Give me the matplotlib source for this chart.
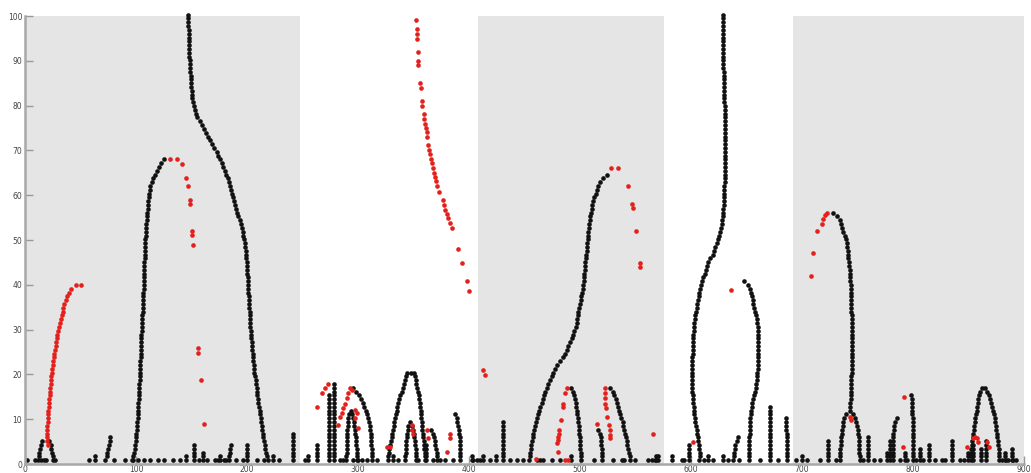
import numpy as np
import matplotlib.pyplot as plt

# one vertical step between neighbouring dots, in y units
DY = 0.85

# grey background bands (x ranges)
bands = [(0, 248), (408, 576), (692, 900)]

# black curves: (first step, x at each following step)
arch1_left = (1, [97, 97.5, 98, 99, 99.3, 99.6, 100, 100.3, 100.6, 101, 101.2, 101.5,
                  101.7, 101.9, 102, 102.2, 102.4, 102.6, 102.8, 103, 103.1, 103.3, 103.5, 103.6,
                  103.8, 103.9, 104, 104.1, 104.3, 104.4, 104.5, 104.6, 104.7, 104.9, 105,
                  105.2, 105.4, 105.5, 105.7, 105.9, 106, 106.2, 106.4, 106.5, 106.7, 106.9, 107,
                  107.1, 107.2, 107.3, 107.4, 107.5, 107.6, 107.7, 107.8, 108, 108.1, 108.3, 108.5,
                  108.7, 108.9, 109.1, 109.3, 109.5, 109.8, 110.1, 110.4, 110.7, 111,
                  111.5, 112, 112.5, 113, 114, 115.5, 117, 118.6, 120.5, 122.5, 125])
arch1_right = (1, [219, 218, 217.3, 216.6, 216, 215.4, 214.8, 214.2, 213.7, 213.2, 212.7, 212.3,
                   211.8, 211.3, 210.8, 210.3, 209.8, 209.4, 209, 208.6, 208.2, 207.7, 207.2, 206.6,
                   206.3, 206, 205.7, 205.4, 205.1, 204.8, 204.5, 204.2, 203.9, 203.6, 203.3,
                   203.1, 202.9, 202.7, 202.5, 202.3, 202.1, 201.9, 201.7, 201.5, 201.3, 201.1, 200.9,
                   200.7, 200.5, 200.4, 200.3, 200, 199.7, 199.4, 199.1, 198.7, 198.3, 197.8, 197.3,
                   196.7, 196, 195.2, 194.3, 193.3, 192.2, 191.2, 190.3, 189.4, 188.5, 187.6, 186.7,
                   185.8, 184.8, 183.8, 182.5, 181.2, 180, 178.7, 177.2, 175.7, 174.2, 172.7,
                   170.7, 168.7, 166.7, 165, 163.5, 161.5, 159.5, 157.3, 155.2,
                   153.8, 152.8, 152, 151.3, 150.7, 150.3, 150, 149.8, 149.5,
                   149.3, 149.1, 148.9, 148.7, 148.5, 148.3, 148.1, 147.9, 147.7,
                   147.6, 147.5, 147.4, 147.3, 147.3, 147.2, 147.2, 147.1, 147.1])
cluster_left = (1, [11.5, 12.5, 13, 13.5, 14.3, 15])
cluster_right = (1, [25.5, 25, 24.3, 23.7, 23, 22])
slant_75 = (1, [72.5, 73.5, 74, 75, 75.5, 76.5, 77])
slant_184 = (1, [183.5, 184, 184.5, 185, 185.5])
outer_right = (1, [312.7, 312.6, 312.5, 312.3, 312.1, 311.9, 311.6, 311.3, 310.9, 310.4,
                   309.8, 309, 308, 307, 305.8, 304.3, 302.5, 300.5, 298, 295.5])
inner_left = (1, [289.5, 289.6, 289.7, 289.8, 289.9, 290, 290.1, 290.2, 290.4, 290.6, 290.8, 291.2, 292])
inner_top = (14, [293.3])
inner_right = (1, [299.4, 299.2, 299, 298.8, 298.6, 298.3, 298, 297.6, 297.2, 296.8, 296.3, 295.5, 294.5])
archc_left = (1, [327, 327.3, 327.8, 328.3, 328.8, 329.5, 330.3, 330.9, 331.5, 332.1, 332.7, 333.4,
                  334.1, 334.8, 335.5, 336.3, 337, 337.8, 339.3, 340.8, 341.6, 342.4, 343.2, 344.2])
archc_top = (24, [347.3])
archc_right = (1, [360.6, 360.4, 360.1, 359.8, 359.5, 359.2, 358.8, 358.4, 358, 357.7, 357.4, 357.1,
                   356.8, 356.5, 356.1, 355.7, 355.3, 355, 354.2, 353.4, 352.7, 352, 351.4, 350.5])
archd_left = (1, [342.5, 342.6, 342.8, 343, 343.2, 343.5, 343.8, 344.2, 344.7, 345.3])
archd_top = (11, [346.7])
archd_right = (1, [352.5, 352.4, 352.2, 352, 351.7, 351.3, 350.9, 350.4, 349.8, 349])
arche_right = (1, [371.5, 371.3, 371, 370.5, 369.8, 369, 368.2, 367.3, 366.2])
hook_390 = (1, [392, 392, 392, 392, 391.9, 391.7, 391.5, 391.3, 390.8, 390.3, 389.6, 388.9, 387.4])
archg_left = (1, [454.5, 454.8, 455.2, 455.7, 456.1, 456.5, 457.3, 458, 458.8, 459.5,
                  460.5, 461.5, 462.4, 463.4, 464.4, 465.5, 466.5, 467.5, 468.5, 470, 471.5,
                  473, 474.5, 476, 477.5, 479.7, 482, 484.3, 486.5, 488, 489.5, 491, 492.5, 494,
                  495, 496, 497, 497.5, 498, 498.5, 499.3, 500, 500.5, 501, 501.5, 502.3, 503,
                  503.3, 503.6, 503.9, 504.2, 504.5, 504.9, 505.3, 505.7, 506,
                  506.3, 506.6, 506.9, 507.2, 507.5, 507.9, 508.3, 508.6, 509,
                  509.7, 510.4, 511.2, 512, 513, 514, 515, 516.5, 518, 521, 524])
archa_right = (1, [500.8, 500.7, 500.6, 500.3, 500, 499.8, 499.6, 499.4, 499.1, 498.8,
                   498.5, 498, 497.6, 497.2, 496.8, 496.4, 495.6, 494.8, 494, 491.5])
hook_519 = (1, [520, 520, 519.8, 519.5, 519.2, 518.9, 518.6, 518, 516.5])
archb_right = (1, [545, 544.7, 544.4, 543.5, 542.6, 541.9, 541.2, 540.5, 539.8, 539.1,
                   538.4, 537.2, 536, 535, 534, 533, 532, 531, 530, 527])
spike = (1, [607.5, 607.7, 607.8, 607.3, 606.8, 606.3, 605.9, 605.4, 605, 604.5,
             604, 603.6, 602.9, 602.6, 602.3, 602, 601.7, 601.5, 601.3, 601.2, 601.1,
             601, 601, 601, 601, 601, 601.1, 601.2, 601.4, 601.5, 601.7, 601.8, 602, 602.1,
             602.4, 602.7, 603, 603.4, 603.9, 604.5, 605.1, 605.7, 606.3, 606.9, 607.5,
             608.4, 609.3, 610.2, 611.1, 612.2, 613.3, 614.4, 615.6, 617.5, 619.5,
             620.8, 622, 623.3, 624.6, 625.6, 626.4, 627, 627.5,
             628, 628.5, 628.8, 629.1, 629.4, 629.7,
             629.8, 629.9, 630, 630.1, 630.2, 630.3, 630.3, 630.4, 630.4, 630.5, 630.5, 630.6,
             630.6, 630.6, 630.6, 630.6, 630.5, 630.5, 630.5, 630.4, 630.4, 630.3, 630.3, 630.2, 630.2, 630.1,
             630, 629.9, 629.8, 629.7, 629.6, 629.5, 629.4, 629.3, 629.2, 629.1, 629, 628.9,
             628.9, 628.8, 628.8, 628.7, 628.7, 628.6, 628.6, 628.6, 628.5, 628.5, 628.5])
bulge_655 = (1, [652.5, 652.5, 652.5, 652.5, 652.5, 652.6, 652.7, 652.8, 652.9, 653, 653.2,
                 653.5, 653.9, 654.3, 654.7, 655.4, 656.1, 656.9, 657.7,
                 658.2, 658.7, 659.1, 659.5, 659.8, 660, 660.2, 660.4, 660.6,
                 660.6, 660.7, 660.7, 660.7, 660.6, 660.5, 660.3, 660.1, 659.8,
                 659.2, 658.5, 657.7, 657, 656.3, 655.5, 654.7, 653.8, 652.8, 651.6, 648])
hook_640 = (1, [638.1, 638.4, 638.7, 639.2, 639.6, 641.2, 642.6])
slant_686 = (1, [686.8, 686.8, 686.7, 686.6, 686.5, 686.4, 686.3, 686.2, 686, 685.8, 685.6, 685.3])
tall_right = (14, [743, 743.2, 743.5, 743.7, 743.9, 744.1,
                   744.2, 744.3, 744.4, 744.5, 744.6, 744.6, 744.7, 744.7, 744.7,
                   744.7, 744.7, 744.7, 744.7, 744.7, 744.7, 744.7, 744.7, 744.7,
                   744.6, 744.6, 744.5, 744.4, 744.3, 744.2, 744.1, 744, 743.8,
                   743.7, 743.6, 743.4, 743.2, 742.9, 742.6, 742.2, 741.7,
                   741.4, 741.1, 740.7, 740.3, 739.3, 738.3, 737.2, 736.2, 735.2, 734.2, 731.5, 728.2])
archm_left = (1, [734.2, 734.3, 734.4, 734.6, 734.8, 735, 735.3, 735.6, 736, 736.6, 737.2, 738, 739.5])
archm_right = (1, [752.2, 752, 751.8, 751.6, 751.4, 751.2, 751, 750.6, 750.2, 749.8, 749, 748, 746.3])
hook_783 = (1, [781.7, 781.7, 781.7, 781.7, 781.8, 781.9, 782, 782.3, 782.7, 783.3, 784, 785.3])
col_800 = (1, [800.3, 800.3, 800.2, 800.2, 800.1, 800.1, 800, 800, 799.9, 799.8, 799.7, 799.6,
               799.5, 799.4, 799.3, 799.1, 798.9, 798.6])
archp_left = (1, [852, 852.2, 852.4, 852.7, 852.9, 853.4, 853.9, 854.3, 854.7, 855.1, 855.5, 855.9,
                  856.7, 857.4, 857.9, 858.4, 858.8, 859.6, 860.4, 861.9])
archp_right = (1, [877.8, 877.6, 877.4, 877.1, 876.9, 876.4, 875.9, 875.4, 875, 874.6, 874.3, 873.9,
                   872.9, 871.8, 871, 870.2, 869.4, 868.2, 866.9, 864.9])

black_curves = [arch1_left, arch1_right, cluster_left, cluster_right, slant_75, slant_184,
                outer_right, inner_left, inner_top, inner_right, archc_left, archc_top, archc_right,
                archd_left, archd_top, archd_right, arche_right, hook_390, archg_left, archa_right,
                hook_519, archb_right, spike, bulge_655, hook_640, slant_686, tall_right,
                archm_left, archm_right, hook_783, col_800, archp_left, archp_right]

# short vertical stacks: (x, number of steps)
stacks = [(63, 2), (145, 2), (152, 5), (160, 3), (176, 2), (200, 5), (223, 2), (241, 8),
          (254.6, 2), (262.8, 5), (273.5, 18), (278.5, 21), (331.8, 2), (361, 5),
          (402.4, 2), (412.9, 2), (424.3, 2), (430.9, 11), (491.5, 2), (570.6, 2),
          (568.5, 2), (582.6, 2), (598.5, 5), (615.6, 2), (629.1, 2), (671, 15), (699.7, 2),
          (723.7, 6), (759.7, 7), (776.3, 3), (779.5, 6), (792.5, 3), (806.5, 4), (814, 5),
          (834.9, 6), (849.9, 3), (854.5, 5), (861.5, 4), (866, 6), (882.9, 3), (888.9, 4)]

# single dots on the bottom row
bottom_x = [1.5, 9, 14, 17, 19, 27, 58, 80, 90, 96, 102, 107, 113, 120, 125, 133, 140, 157, 164,
            171, 174, 179, 181, 190, 196, 209, 215, 229, 252.3, 283.8, 286.8, 295.8, 300.3, 303.3,
            307.8, 316.8, 336.3, 354.3, 367.9, 373.9, 378.4, 385.9, 403.9, 409.9, 407, 418.9,
            436.9, 442.9, 448.9, 461, 464, 467, 474.5, 482, 512.6, 530, 537.5, 539.6, 549.6,
            561.6, 564.6, 567.6, 591.6, 594, 612, 620, 633, 643.5, 662, 678.7, 695, 704.2, 716.2,
            730.6, 755, 765, 770, 788, 795, 803, 809.3, 820, 826, 829, 842.3, 846, 880, 884,
            886, 890, 893]

# red curve on the left: (first step, x per step)
red_curve = (5, [21, 19.5, 19.7, 19.9, 20.1, 20.2, 20.3, 20.5, 20.8, 21.1, 21.4, 21.7, 22, 22.3,
                 22.6, 22.9, 23.2, 23.5, 23.8, 24.1, 24.5, 25, 25.5, 26, 26.5, 27, 27.5, 28, 28.6,
                 29.2, 29.8, 30.5, 31.3, 32.1, 33, 33.8, 34.6, 35.5, 36.6, 38, 39.5, 41.5, 46])

# other red dots (x, y in chart units)
red_x = [50.5, 130.6, 136.6, 141, 145, 146.5, 148.6, 148.6, 150.7, 150.7, 151, 156, 156, 158.2, 161.5,
         263.3, 267.3, 270.3, 273.3,
         292.8, 294.3, 291.3, 289.8, 288.3, 286.8, 285.3, 283.8, 282.3,
         297.3, 298.8, 297.3, 300.3, 325.8, 328.8, 348.3, 349, 349.2, 361.9, 363.4,
         382.9, 382.9, 379.9,
         352.3, 352.9, 353.5, 353.5, 353.8, 354.4, 354.4, 355.9, 356.5, 357.4, 358, 359.2, 359.5,
         360.4, 361, 361.9, 361.9, 363.4, 364.3, 364.9, 365.5, 366.4, 367.3, 368.2, 369.4, 370.3,
         370.9, 373.2, 376.3, 377.5, 378.7, 379.9, 381.4, 382.9, 384.4, 390.4, 394, 398.5, 400.3,
         412.9, 414.4,
         528, 534, 543, 547.1, 548, 550.5, 554, 554, 565.5,
         488, 486.5, 485, 484.4, 482.6, 481.4, 481.4, 480.5, 479.9, 479.6, 480.5, 460, 486.5, 489.5,
         522.5, 522.5, 522.5, 522.5, 523.4, 524.6, 526.4, 527, 527, 527, 515,
         602, 636,
         708.1, 710.2, 713.8, 717.7, 719.3, 720.8, 722.5, 743.2, 744.1, 792, 791.3,
         848.3, 853.8, 855.9, 857.9, 858.8, 866.4, 868.7]
red_y = [40, 68, 68, 67, 63.9, 62, 58.9, 58, 52, 51.1, 48.9, 26, 24.8, 18.75, 8.9,
         12.8, 15.8, 16.9, 17.8,
         16.9, 16.5, 15.8, 14.7, 13.5, 12.4, 11.3, 10.6, 8.7,
         12, 11.3, 10.2, 8, 3.9, 3.9, 8.7, 7.6, 6.8, 7.6, 5.7,
         6.8, 5.7, 2.7,
         99.1, 97, 96, 94.9, 92, 90, 89.1, 85, 84, 81.1, 79.9, 78.1, 77.1,
         76, 75.1, 74, 73.1, 71.1, 70.1, 69.1, 68.1, 67.1, 66.1, 65, 64.1, 63.2,
         62.1, 60.8, 58.9, 57.8, 56.8, 55.8, 54.8, 53.7, 52.7, 47.9, 44.8, 40.9, 38.7,
         21, 19.9,
         66, 66, 62, 58, 57.1, 52.1, 44.8, 43.9, 6.7,
         16.9, 15.8, 13.5, 12.8, 9.8, 7.6, 6.8, 6.1, 5.4, 4.6, 2.7, 1.2, 0.9, 0.9,
         16.9, 15.8, 14.7, 13.5, 12.4, 10.6, 8.8, 7.6, 6.5, 5.8, 8.9,
         4.8, 38.8,
         42, 47, 52, 53.6, 54.7, 55.6, 56.1, 10.6, 9.8, 15, 3.9,
         3.9, 5.7, 6, 5.7, 5, 5, 3.9]

# collect black points
bx, by = [], []
for first, xs in black_curves:
    for i, x in enumerate(xs):
        bx.append(x)
        by.append((first + i) * DY)
for x, top in stacks:
    for step in range(1, top + 1):
        bx.append(x)
        by.append(step * DY)
for x in bottom_x:
    bx.append(x)
    by.append(DY)

rx = list(red_x)
ry = list(red_y)
first, xs = red_curve
for i, x in enumerate(xs):
    rx.append(x)
    ry.append((first + i) * DY)

fig = plt.figure(figsize=(10.31, 4.73), dpi=100)
ax = fig.add_axes([25 / 1031, 9 / 473, 999 / 1031, 448 / 473])

for x0, x1 in bands:
    ax.axvspan(x0, x1, ymin=0, ymax=1, color="#e5e5e5", lw=0, zorder=0)

ax.scatter(bx, by, s=11, c="#111111", linewidths=0, zorder=2, clip_on=False)
ax.scatter(rx, ry, s=11, c="#e3201b", linewidths=0, zorder=3, clip_on=False)

ax.set_xlim(0, 900)
ax.set_ylim(0, 100)
ax.set_xticks(np.arange(0, 901, 100))
ax.set_yticks(np.arange(0, 101, 10))
for side in ["top", "right"]:
    ax.spines[side].set_visible(False)
for side in ["left", "bottom"]:
    ax.spines[side].set_color("#a8a8a8")
    ax.spines[side].set_linewidth(1.8)
ax.tick_params(axis="both", direction="in", length=6, width=1, color="#999999",
               labelsize=5.5, labelcolor="#444444")
ax.tick_params(axis="y", pad=2)
ax.tick_params(axis="x", pad=1)

fig.savefig("out.png", dpi=100)
